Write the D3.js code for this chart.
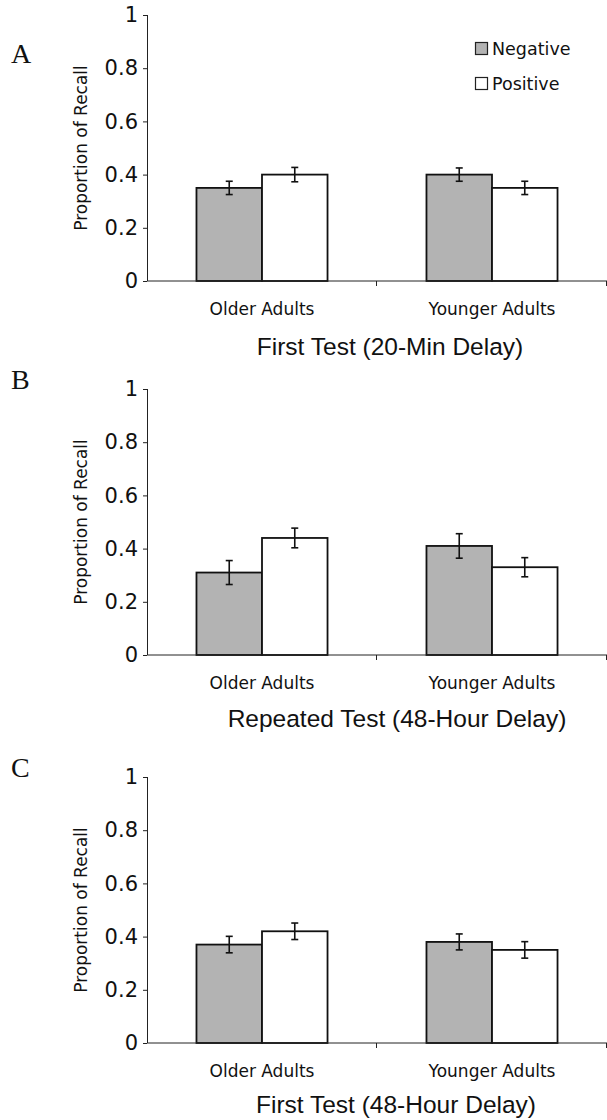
<!DOCTYPE html>
<html>
<head>
<meta charset="utf-8">
<script src="https://cdn.jsdelivr.net/npm/d3@7"></script>
<style>
  body { margin: 0; background: #fff; }
  svg { display: block; }
  .tick text { font-family: "DejaVu Sans", Verdana, sans-serif; }
</style>
</head>
<body>
<script>
// data
var groups = ["Older Adults", "Younger Adults"];
var series = ["Negative", "Positive"];
var panelLetters = ["A", "B", "C"];
var panelTitles = ["First Test (20-Min Delay)", "Repeated Test (48-Hour Delay)", "First Test (48-Hour Delay)"];
var yTicks = [0, 0.2, 0.4, 0.6, 0.8, 1];

var negA = [0.35, 0.40], posA = [0.40, 0.35];
var negErrA = [0.025, 0.025], posErrA = [0.027, 0.025];
var negB = [0.31, 0.41], posB = [0.44, 0.33];
var negErrB = [0.045, 0.046], posErrB = [0.037, 0.036];
var negC = [0.37, 0.38], posC = [0.42, 0.35];
var negErrC = [0.031, 0.030], posErrC = [0.031, 0.031];

var panels = [
  {neg: negA, pos: posA, negErr: negErrA, posErr: posErrA},
  {neg: negB, pos: posB, negErr: negErrB, posErr: posErrB},
  {neg: negC, pos: posC, negErr: negErrC, posErr: posErrC}
];

var color = {Negative: "#b3b3b3", Positive: "#ffffff"};

var W = 607, H = 1120;
var svg = d3.select("body").append("svg")
    .attr("width", W)
    .attr("height", H);

// layout per panel (top of y=1, letter baseline, title centre)
var plotH = 266;
var panelTop = [15, 389, 777];
var letterY = [63, 389, 777];
var titleY = [355, 727, 1113];
var titleX = [390, 397, 396];

var x0 = d3.scaleBand().domain(groups).range([147, 607]).paddingInner(0).paddingOuter(0);
var x1 = d3.scaleBand().domain(series).range([0, x0.bandwidth()]).paddingInner(0).paddingOuter(0.755);

panels.forEach(function(p, i) {
  var top = panelTop[i];
  var y = d3.scaleLinear().domain([0, 1]).range([top + plotH, top]);
  var g = svg.append("g");

  var rows = [];
  groups.forEach(function(grp, j) {
    rows.push({group: grp, key: "Negative", value: p.neg[j], err: p.negErr[j]});
    rows.push({group: grp, key: "Positive", value: p.pos[j], err: p.posErr[j]});
  });

  // bars
  g.selectAll(".bar").data(rows).join("rect")
    .attr("class", "bar")
    .attr("x", d => x0(d.group) + x1(d.key))
    .attr("y", d => y(d.value))
    .attr("width", x1.bandwidth())
    .attr("height", d => y(0) - y(d.value))
    .attr("fill", d => color[d.key])
    .attr("stroke", "#111")
    .attr("stroke-width", 1.8);

  // error bars
  var eb = g.selectAll(".err").data(rows).join("g").attr("class", "err")
    .attr("transform", d => "translate(" + (x0(d.group) + x1(d.key) + x1.bandwidth() / 2) + ",0)")
    .attr("stroke", "#111").attr("stroke-width", 1.6);
  eb.append("line").attr("x1", 0).attr("x2", 0)
    .attr("y1", d => y(d.value + d.err)).attr("y2", d => y(d.value - d.err));
  eb.append("line").attr("x1", -3.5).attr("x2", 3.5)
    .attr("y1", d => y(d.value + d.err)).attr("y2", d => y(d.value + d.err));
  eb.append("line").attr("x1", -3.5).attr("x2", 3.5)
    .attr("y1", d => y(d.value - d.err)).attr("y2", d => y(d.value - d.err));

  // y axis
  var ya = g.append("g").attr("transform", "translate(147,0)")
    .call(d3.axisLeft(y).tickValues(yTicks).tickSize(4).tickPadding(5).tickFormat(d => String(d)));
  ya.selectAll("path, line").attr("stroke", "#222");
  ya.selectAll("text").attr("font-size", 21).attr("fill", "#111");
  ya.select(".domain").attr("d", "M0.5," + y(1) + "V" + y(0));

  // x axis: baseline with ticks at the group boundaries
  g.append("line")
    .attr("x1", x0.range()[0]).attr("x2", x0.range()[1])
    .attr("y1", y(0)).attr("y2", y(0))
    .attr("stroke", "#222");
  g.selectAll(".xtick").data(groups).join("line").attr("class", "xtick")
    .attr("x1", d => x0(d) + x0.bandwidth() - 0.5).attr("x2", d => x0(d) + x0.bandwidth() - 0.5)
    .attr("y1", y(0)).attr("y2", y(0) + 5)
    .attr("stroke", "#222");
  g.selectAll(".xlab").data(groups).join("text").attr("class", "xlab")
    .attr("x", d => x0(d) + x0.bandwidth() / 2)
    .attr("y", y(0) + 34)
    .attr("text-anchor", "middle")
    .attr("font-family", "DejaVu Sans, Verdana, sans-serif")
    .attr("font-size", 17)
    .attr("fill", "#111")
    .text(d => d);

  // y label
  g.append("text")
    .attr("transform", "translate(87," + y(0.5) + ") rotate(-90)")
    .attr("text-anchor", "middle")
    .attr("font-family", "DejaVu Sans, Verdana, sans-serif")
    .attr("font-size", 17)
    .attr("fill", "#111")
    .text("Proportion of Recall");

  // panel title
  g.append("text")
    .attr("x", titleX[i]).attr("y", titleY[i])
    .attr("text-anchor", "middle")
    .attr("font-family", "Liberation Sans, Arial, sans-serif")
    .attr("font-size", 24.5)
    .attr("fill", "#111")
    .text(panelTitles[i]);

  // panel letter
  svg.append("text")
    .attr("x", 11).attr("y", letterY[i])
    .attr("font-family", "Liberation Serif, Times New Roman, serif")
    .attr("font-size", 28)
    .attr("fill", "#111")
    .text(panelLetters[i]);
});

// legend (panel A only)
var leg = svg.append("g").selectAll("g").data(series).join("g")
  .attr("transform", (d, i) => "translate(475," + (42 + i * 35) + ")");
leg.append("rect").attr("x", 0.5).attr("y", 0.5).attr("width", 12).attr("height", 12)
  .attr("fill", d => color[d]).attr("stroke", "#222").attr("stroke-width", 1.2);
leg.append("text").attr("x", 17).attr("y", 12.5)
  .attr("font-family", "DejaVu Sans, Verdana, sans-serif")
  .attr("font-size", 17.5)
  .attr("fill", "#111")
  .text(d => d);
</script>
</body>
</html>
